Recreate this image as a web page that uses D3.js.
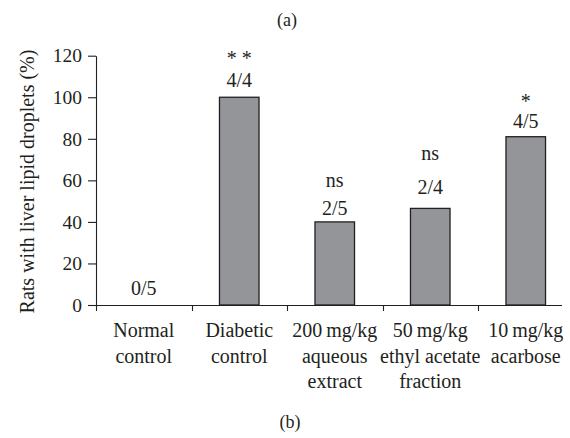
<!DOCTYPE html>
<html><head><meta charset="utf-8">
<script src="https://cdn.jsdelivr.net/npm/d3@7"></script>
<style>
body{margin:0;background:#fff}
svg{display:block}
</style>
</head><body><svg id="c" width="570" height="438"></svg>
<script>
const categories = ["Normal|control", "Diabetic|control", "200\u2009mg/kg|aqueous|extract", "50\u2009mg/kg|ethyl acetate|fraction", "10\u2009mg/kg|acarbose"];
const values = [0, 100, 40, 46.5, 81];
const fractions = ["0/5", "4/4", "2/5", "2/4", "4/5"];
const significance = ["", "* *", "ns", "ns", "*"];
const fracLevels = [4.8, 105, 43.3, 53.6, 85.1];
const sigLevels = [null, 115.4, 56.9, 70, 94.7];
const yTicks = [0, 20, 40, 60, 80, 100, 120];
const yLabel = "Rats with liver lipid droplets (%)";

const FONT = "Liberation Serif, DejaVu Serif, serif";
const svg = d3.select("#c").attr("font-family", FONT);
const ink = "#231f20";

const x = d3.scaleBand().domain(categories).range([96, 573.5]).padding(0);
const y = d3.scaleLinear().domain([0, 120]).range([305, 55.7]);
const bw = x.bandwidth();
const barW = bw * 0.414;

// titles
svg.append("text").attr("x", 287).attr("y", 26).attr("text-anchor", "middle")
  .attr("font-family", FONT).attr("fill", ink).attr("font-size", 18).text("(a)");
svg.append("text").attr("x", 290).attr("y", 428).attr("text-anchor", "middle")
  .attr("font-family", FONT).attr("fill", ink).attr("font-size", 18).text("(b)");

// bars
svg.append("g").selectAll("rect")
  .data(categories.map((c, i) => ({c, v: values[i]})).filter(d => d.v > 0))
  .join("rect")
  .attr("x", d => x(d.c) + (bw - barW) / 2)
  .attr("y", d => y(d.v))
  .attr("width", barW)
  .attr("height", d => y(0) - y(d.v))
  .attr("fill", "#939598")
  .attr("stroke", ink)
  .attr("stroke-width", 1.3);

// y axis
const yAxis = svg.append("g").attr("transform", "translate(96,0)")
  .call(d3.axisLeft(y).tickValues(yTicks).tickSize(8).tickSizeOuter(0).tickPadding(6));
yAxis.attr("font-family", FONT).attr("font-size", 19.5);
yAxis.selectAll("path,line").attr("stroke", ink).attr("stroke-width", 1.1);
yAxis.selectAll("text").attr("fill", ink);

// x axis
const xg = svg.append("g").attr("font-family", FONT).attr("fill", ink);
xg.append("line").attr("x1", x.range()[0]).attr("x2", 562)
  .attr("y1", y(0) + 0.5).attr("y2", y(0) + 0.5).attr("stroke", ink).attr("stroke-width", 1.1);
xg.selectAll("line.tick").data(categories).join("line").attr("class", "tick")
  .attr("x1", d => Math.round(x(d)) + 0.5).attr("x2", d => Math.round(x(d)) + 0.5)
  .attr("y1", y(0)).attr("y2", y(0) + 6).attr("stroke", ink).attr("stroke-width", 1.1);

// category labels
xg.selectAll("text.cat").data(categories).join("text").attr("class", "cat")
  .attr("text-anchor", "middle").attr("font-size", 20)
  .each(function(d) {
    const t = d3.select(this);
    d.split("|").forEach((line, i) => {
      t.append("tspan").attr("x", x(d) + bw / 2).attr("y", 337 + i * 25.5).text(line);
    });
  });

// annotations
const ag = svg.append("g").attr("font-family", FONT).attr("fill", ink).attr("font-size", 20);
ag.selectAll("text.frac").data(categories).join("text").attr("class", "frac")
  .attr("x", d => x(d) + bw / 2).attr("y", (d, i) => y(fracLevels[i]))
  .attr("text-anchor", "middle")
  .text((d, i) => fractions[i]);
ag.selectAll("text.sig").data(categories.filter((d, i) => significance[i])).join("text").attr("class", "sig")
  .attr("x", d => x(d) + bw / 2)
  .attr("y", d => y(sigLevels[categories.indexOf(d)]))
  .attr("text-anchor", "middle")
  .attr("xml:space", "preserve")
  .text(d => significance[categories.indexOf(d)]);

// y label
svg.append("text").attr("transform", "translate(34,181.5) rotate(-90)")
  .attr("font-family", FONT).attr("fill", ink)
  .attr("text-anchor", "middle").attr("font-size", 20).text(yLabel);
</script>
</body></html>
